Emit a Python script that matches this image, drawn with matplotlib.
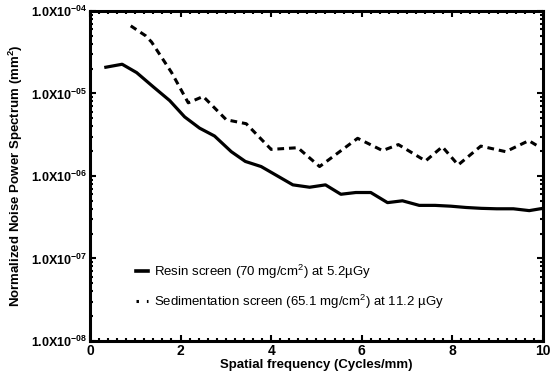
import matplotlib
matplotlib.use("Agg")
import matplotlib.pyplot as plt
from matplotlib.lines import Line2D
from matplotlib.ticker import FixedLocator, MultipleLocator, LogLocator, NullFormatter

plt.rcParams['font.family'] = ['Liberation Sans', 'DejaVu Sans']
plt.rcParams['mathtext.fontset'] = 'custom'
plt.rcParams['mathtext.rm'] = 'Liberation Sans'
plt.rcParams['mathtext.bf'] = 'Liberation Sans:bold'

# resin screen (solid)
resin_freq = [0.35, 0.71, 1.03, 1.40, 1.76, 2.09, 2.42, 2.75, 3.12, 3.43,
              3.78, 4.14, 4.48, 4.85, 5.20, 5.54, 5.87, 6.20, 6.57, 6.90,
              7.27, 7.62, 7.97, 8.30, 8.64, 8.98, 9.35, 9.70, 10.0]
resin_nps = [2.08e-5, 2.26e-5, 1.79e-5, 1.2e-5, 8.2e-6, 5.2e-6, 3.8e-6, 3.05e-6, 1.97e-6, 1.5e-6,
             1.30e-6, 1.0e-6, 7.8e-7, 7.3e-7, 7.8e-7, 6.0e-7, 6.3e-7, 6.3e-7, 4.75e-7, 5.0e-7,
             4.4e-7, 4.4e-7, 4.3e-7, 4.15e-7, 4.05e-7, 4.0e-7, 4.0e-7, 3.8e-7, 4.05e-7]

# sedimentation screen (dashed)
sed_freq = [0.90, 1.23, 1.36, 1.80, 2.17, 2.50, 3.01, 3.45, 4.00, 4.59,
            5.07, 5.91, 6.46, 6.81, 7.41, 7.78, 8.13, 8.63, 9.18, 9.69, 9.95]
sed_nps = [6.6e-5, 5.0e-5, 4.2e-5, 1.8e-5, 7.7e-6, 9.2e-6, 4.8e-6, 4.3e-6, 2.1e-6, 2.2e-6,
           1.3e-6, 2.86e-6, 2.03e-6, 2.4e-6, 1.52e-6, 2.26e-6, 1.36e-6, 2.3e-6, 1.97e-6, 2.68e-6, 2.2e-6]

labels = [r'Resin screen (70 mg/cm$^2$) at 5.2µGy',
          r'Sedimentation screen (65.1 mg/cm$^2$) at 11.2 µGy']

y_ticks = [1e-8, 1e-7, 1e-6, 1e-5, 1e-4]
y_labels = [r'1.0X10$^{\mathbf{-08}}$', r'1.0X10$^{\mathbf{-07}}$', r'1.0X10$^{\mathbf{-06}}$',
            r'1.0X10$^{\mathbf{-05}}$', r'1.0X10$^{\mathbf{-04}}$']

fig = plt.figure(figsize=(5.5, 3.78), dpi=100)
ax = fig.add_axes([0.1636, 0.098, 0.8234, 0.873])

ax.plot(resin_freq, resin_nps, color='black', lw=2.3, solid_joinstyle='round')
ax.plot(sed_freq, sed_nps, color='black', lw=2.2, dashes=(2.2, 1.6))

ax.set_yscale('log')
ax.set_ylim(1e-8, 1e-4)
ax.set_xlim(0, 10)
ax.yaxis.set_major_locator(FixedLocator(y_ticks))
ax.set_yticklabels(y_labels, fontweight='bold', fontsize=9)
ax.yaxis.set_minor_locator(LogLocator(base=10, subs=range(2, 10)))
ax.yaxis.set_minor_formatter(NullFormatter())
ax.xaxis.set_major_locator(MultipleLocator(2))
ax.xaxis.set_minor_locator(MultipleLocator(0.2))
for lab in ax.get_xticklabels():
    lab.set_fontweight('bold')
    lab.set_fontsize(10)

ax.tick_params(which='both', direction='in', top=True, right=True, width=1.5)
ax.tick_params(which='major', length=4, pad=2)
ax.tick_params(which='minor', length=2)
for s in ax.spines.values():
    s.set_linewidth(2.2)

ax.set_xlabel('Spatial frequency (Cycles/mm)', fontweight='bold', fontsize=9.5, labelpad=1)
ax.set_ylabel(r'Normalized Noise Power Spectrum (mm$^{\mathbf{2}}$)', fontweight='bold', fontsize=9.5, labelpad=4)

handles = [Line2D([], [], color='black', lw=2.6),
           Line2D([], [], color='black', lw=2.2, dashes=(0.8, 2.6))]
ax.legend(handles, labels, loc='lower left', bbox_to_anchor=(0.075, 0.055), frameon=False,
          fontsize=9.5, handlelength=0.9, handletextpad=0.5, labelspacing=0.9)

fig.savefig('out.png', dpi=100)
